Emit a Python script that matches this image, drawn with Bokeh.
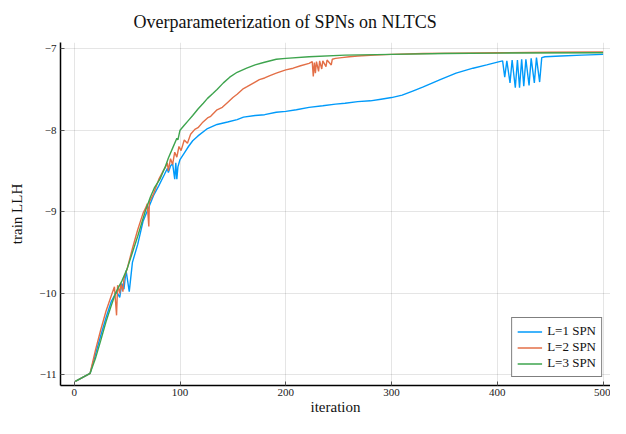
from bokeh.plotting import figure
from bokeh.models import ColumnDataSource, FixedTicker, CustomJSTickFormatter, Range1d, Legend, LegendItem
from bokeh.embed import file_html
from bokeh.resources import INLINE

# ---------------- data ----------------
iters_l1 = [1, 15, 20, 25, 30, 35, 40, 43, 45, 47, 49, 52, 55, 60, 65, 70, 75, 80, 85, 88, 89, 91, 93,
            95, 96, 97, 98, 100, 104, 108, 112, 117, 126, 135, 145, 154, 160, 171, 180, 191, 200, 210,
            222, 235, 247, 256, 268, 280, 290, 300, 310, 320, 330, 346, 361, 377, 390, 402, 405, 407,
            409, 412, 414, 417, 419, 421, 423, 425, 427, 430, 432, 435, 437, 440, 442, 445, 460, 480, 500]
llh_l1 = [-11.08, -10.98, -10.75, -10.52, -10.30, -10.10, -9.98, -10.05, -9.88, -9.95, -9.72, -9.98,
          -9.62, -9.40, -9.12, -8.96, -8.80, -8.68, -8.55, -8.47, -8.52, -8.44, -8.41, -8.60, -8.40,
          -8.60, -8.45, -8.36, -8.28, -8.20, -8.13, -8.07, -7.98, -7.93, -7.90, -7.87, -7.84, -7.82,
          -7.81, -7.78, -7.77, -7.75, -7.72, -7.70, -7.68, -7.67, -7.65, -7.64, -7.62, -7.60, -7.57,
          -7.52, -7.47, -7.38, -7.30, -7.24, -7.20, -7.16, -7.15, -7.35, -7.15, -7.42, -7.14, -7.48,
          -7.14, -7.48, -7.13, -7.46, -7.13, -7.45, -7.12, -7.42, -7.11, -7.41, -7.11, -7.10, -7.09,
          -7.08, -7.07]

iters_l2 = [1, 15, 20, 25, 30, 35, 38, 40, 41, 43, 44, 46, 47, 50, 55, 60, 65, 68, 69, 70.5, 71, 75,
            80, 84, 86, 88, 89, 91, 93, 95, 97, 99, 101, 104, 107, 110, 114, 117, 121, 126, 129, 135,
            140, 145, 150, 154, 160, 163, 171, 175, 180, 185, 191, 200, 207, 214, 222, 225, 226, 227,
            228, 229, 231, 232, 234, 235, 238, 239, 243, 244, 247, 253, 260, 268, 284, 300, 330, 360,
            400, 450, 500]
llh_l2 = [-11.08, -10.98, -10.70, -10.45, -10.22, -10.03, -9.92, -10.27, -9.90, -10.00, -9.88, -9.98,
          -9.82, -9.70, -9.45, -9.22, -9.02, -8.94, -8.90, -9.18, -8.88, -8.78, -8.60, -8.50, -8.46,
          -8.40, -8.50, -8.35, -8.42, -8.27, -8.33, -8.20, -8.25, -8.12, -8.16, -8.05, -7.99, -7.97,
          -7.91, -7.85, -7.83, -7.75, -7.72, -7.66, -7.60, -7.56, -7.49, -7.47, -7.41, -7.38, -7.36,
          -7.33, -7.30, -7.26, -7.24, -7.21, -7.18, -7.16, -7.34, -7.17, -7.30, -7.16, -7.28, -7.15,
          -7.25, -7.15, -7.22, -7.14, -7.20, -7.13, -7.12, -7.11, -7.10, -7.09, -7.08, -7.07, -7.06,
          -7.055, -7.05, -7.045, -7.04]

iters_l3 = [1, 15, 20, 25, 30, 35, 39, 42, 45, 50, 55, 60, 67, 72, 76, 81, 83, 86, 89, 93, 97, 98,
            100, 104, 108, 112, 117, 122, 126, 131, 135, 141, 147, 154, 163, 171, 179, 191, 200, 222,
            256, 300, 350, 400, 500]
llh_l3 = [-11.08, -10.98, -10.80, -10.58, -10.35, -10.15, -10.00, -9.92, -9.85, -9.70, -9.50, -9.30,
          -9.00, -8.82, -8.70, -8.60, -8.54, -8.45, -8.34, -8.22, -8.10, -8.12, -8.00, -7.94, -7.88,
          -7.82, -7.74, -7.67, -7.61, -7.55, -7.50, -7.42, -7.35, -7.29, -7.24, -7.20, -7.17, -7.13,
          -7.12, -7.10, -7.08, -7.07, -7.06, -7.055, -7.05]

series_labels = ["L=1 SPN", "L=2 SPN", "L=3 SPN"]
series_colors = ["#009AFA", "#E36F47", "#3EA44E"]
x_ticks = [0, 100, 200, 300, 400, 500]
y_ticks = [-11, -10, -9, -8, -7]

FONT = "Liberation Serif"

p = figure(width=610, height=418, output_backend="svg", toolbar_location=None,
           x_range=Range1d(-13, 507), y_range=Range1d(-11.13, -6.925),
           min_border_left=60, min_border_right=0, min_border_top=42, min_border_bottom=33,
           title="Overparameterization of SPNs on NLTCS")

p.title.text_font = FONT
p.title.text_font_size = "18px"
p.title.text_font_style = "normal"
p.title.align = "left"
p.title.offset = 73
p.title.text_color = "#111111"
p.title.vertical_align = "top"
p.title.text_line_height = 1.0
p.title.standoff = 18

p.outline_line_color = None
p.background_fill_color = "white"
p.border_fill_color = "white"

for g in (p.xgrid, p.ygrid):
    g.grid_line_color = "#000000"
    g.grid_line_alpha = 0.1
    g.grid_line_width = 1
p.xgrid.ticker = FixedTicker(ticks=x_ticks)
p.ygrid.ticker = FixedTicker(ticks=y_ticks)

fmt = CustomJSTickFormatter(code="return tick < 0 ? '\u2212' + Math.abs(tick) : String(tick);")

for ax, ticks, lab in ((p.xaxis[0], x_ticks, "iteration"), (p.yaxis[0], y_ticks, "train LLH")):
    ax.ticker = FixedTicker(ticks=ticks)
    ax.formatter = fmt
    ax.axis_label = lab
    ax.axis_label_text_font = FONT
    ax.axis_label_text_font_size = "15px"
    ax.axis_label_text_font_style = "normal"
    ax.axis_label_text_color = "#111111"
    ax.axis_label_standoff = 0
    ax.major_label_text_font = FONT
    ax.major_label_text_font_size = "11px"
    ax.major_label_text_color = "#222222"
    ax.major_label_standoff = 3
    ax.axis_line_color = "black"
    ax.axis_line_width = 1.5
    ax.major_tick_in = 4
    ax.major_tick_out = 0
    ax.major_tick_line_color = "#555555"
    ax.minor_tick_line_color = None
p.yaxis[0].axis_label_standoff = 11
p.yaxis[0].major_label_standoff = 4

renderers = []
for xs, ys, col in ((iters_l1, llh_l1, series_colors[0]),
                    (iters_l2, llh_l2, series_colors[1]),
                    (iters_l3, llh_l3, series_colors[2])):
    src = ColumnDataSource(dict(x=xs, y=ys))
    r = p.line("x", "y", source=src, line_color=col, line_width=1.4)
    renderers.append(r)

legend = Legend(items=[LegendItem(label=l, renderers=[r]) for l, r in zip(series_labels, renderers)],
                location="bottom_right")
legend.label_text_font = FONT
legend.label_text_font_size = "13px"
legend.label_text_color = "#111111"
legend.border_line_color = "black"
legend.border_line_width = 1.5
legend.background_fill_color = "white"
legend.background_fill_alpha = 1
legend.glyph_width = 25
legend.glyph_height = 15
legend.label_height = 15
legend.spacing = 0
legend.padding = 5
legend.margin = 8
legend.label_standoff = 5
p.add_layout(legend, "center")

open("out.html", "w").write(file_html(p, INLINE))
